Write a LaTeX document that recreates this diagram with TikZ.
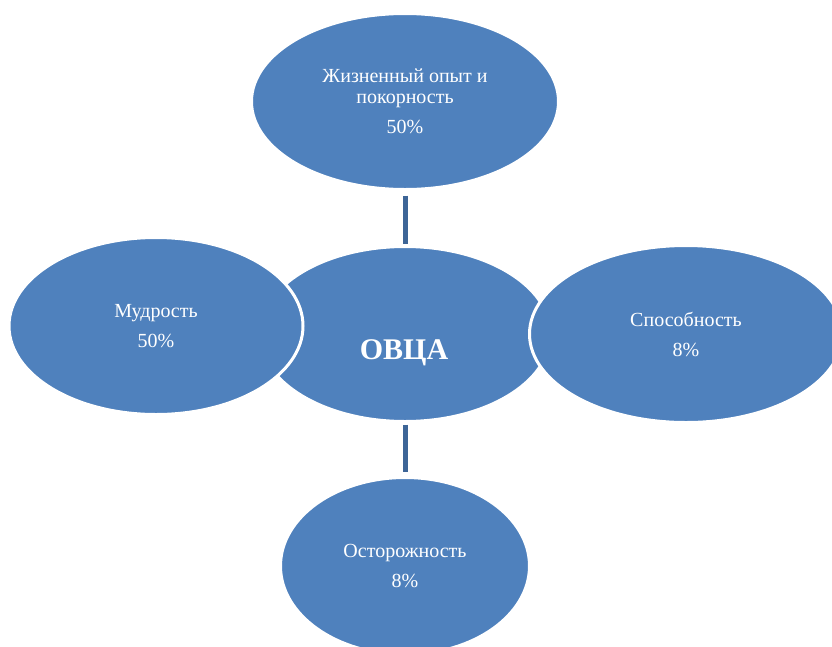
\documentclass[tikz,border=0pt]{standalone}
\usepackage{fontspec}
\setmainfont{Liberation Serif}
\usetikzlibrary{shapes.geometric}
\definecolor{petal}{HTML}{4F81BD}
\definecolor{stem}{HTML}{3D6597}
\begin{document}
\begin{tikzpicture}[x=1pt,y=-1pt,
  bubble/.style={ellipse, fill=petal, draw=white, line width=3pt, inner sep=0pt,
    text=white, align=center, font=\fontsize{20}{21.5}\selectfont},
  link/.style={draw=stem, line width=5pt}]
\useasboundingbox (0,0) rectangle (832,646);

% central ellipse, drawn first so its neighbours overlap it
\node[bubble, minimum width=291pt, minimum height=175pt] (hub) at (405,334) {};
\node[anchor=base, text=white, font=\fontsize{30}{32}\selectfont\bfseries] (hubtext) at (404,359) {ОВЦА};

% surrounding ellipses
\node[bubble, minimum width=294pt, minimum height=177pt] (left) at (156,326)
  {Мудрость\\[8.5pt]50\%};
\node[bubble, minimum width=313pt, minimum height=177pt] (right) at (686,334)
  {Способность\\[8.5pt]8\%};
\node[bubble, minimum width=307pt, minimum height=176pt] (top) at (405,101.5)
  {Жизненный опыт и\\покорность\\[8.5pt]50\%};
\node[bubble, minimum width=249pt, minimum height=177pt] (bottom) at (405,566)
  {Осторожность\\[8.5pt]8\%};

% vertical connectors
\draw[link, shorten <=4.5pt, shorten >=1.5pt] (top.south) -- (hub.north);
\draw[link, shorten <=1.5pt, shorten >=4.5pt] (hub.south) -- (bottom.north);
\end{tikzpicture}
\end{document}
